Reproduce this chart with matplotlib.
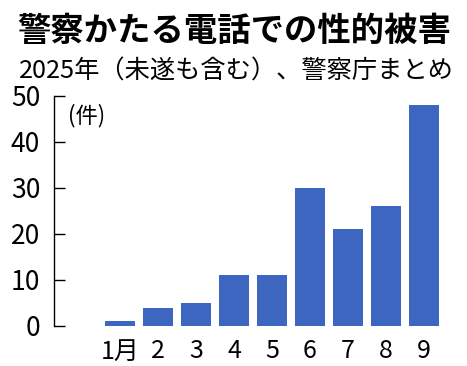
import matplotlib.pyplot as plt

plt.rcParams['font.family'] = ['Noto Sans CJK JP', 'DejaVu Sans']

months = ["1月", "2", "3", "4", "5", "6", "7", "8", "9"]
cases = [1, 4, 5, 11, 11, 30, 21, 26, 48]
yticks = [0, 10, 20, 30, 40, 50]

title = "警察かたる電話での性的被害"
subtitle = "2025年（未遂も含む）、警察庁まとめ"
unit = "(件)"

fig = plt.figure(figsize=(4.67, 3.66), dpi=100)
ax = fig.add_axes([54 / 467, 40 / 366, (443 - 54) / 467, 230 / 366])

x = range(len(months))
ax.bar(x, cases, width=0.79, color="#3D66C1")

ax.set_xlim(-1.74, 8.5)
ax.set_ylim(0, 50)
ax.set_yticks(yticks)
ax.set_xticks(list(x))
ax.set_xticklabels(months, fontsize=18)
ax.tick_params(axis="y", direction="in", length=8, width=1, labelsize=19, pad=10)
ax.tick_params(axis="x", length=0, pad=9)

for side in ["top", "right", "bottom"]:
    ax.spines[side].set_visible(False)
ax.spines["left"].set_linewidth(1)

ax.text(0.035, 0.913, unit, transform=ax.transAxes, fontsize=16, va="center", ha="left")

fig.text(0.037, 0.913, title, fontsize=24, fontweight="bold", va="center", ha="left")
fig.text(0.04, 0.805, subtitle, fontsize=18.2, va="center", ha="left")

fig.savefig("out.png", dpi=100)
